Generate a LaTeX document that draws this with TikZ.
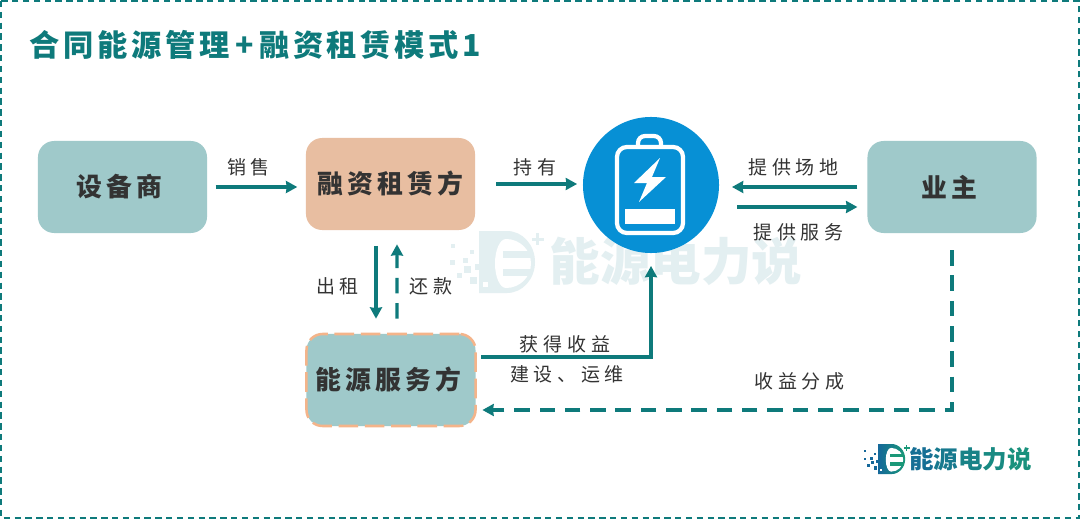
\documentclass[tikz,border=0pt]{standalone}
\usepackage{fontspec}
\usepackage{xcolor}
\usetikzlibrary{calc, arrows.meta}

\newfontfamily\cjktext[LetterSpace=25]{Noto Sans CJK SC}
\newfontfamily\cjkbox[LetterSpace=16]{Noto Sans CJK SC}
\newfontfamily\cjktitle[LetterSpace=12]{Noto Sans CJK SC}
\newfontfamily\cjkmark{Noto Sans CJK SC}

\definecolor{tealline}{HTML}{0E7A7B}
\definecolor{tealbox}{HTML}{9FC9CA}
\definecolor{peachbox}{HTML}{E8BEA1}
\definecolor{peachdash}{HTML}{F4B48A}
\definecolor{batteryblue}{HTML}{0790D5}
\definecolor{inkgray}{HTML}{333333}
\definecolor{markpale}{HTML}{E3EFF1}
\definecolor{markblue}{HTML}{15689A}
\definecolor{markgreen}{HTML}{1A9878}

\tikzset{
	flow/.style = {-{Stealth[length = 8pt, width = 8.5pt, inset = 0.5pt]}, tealline, line width = 2.4pt},
	flowdash/.style = {flow, dash pattern = on 11pt off 7pt},
	tagtext/.style = {inkgray, font = \cjktext\fontsize{13.5}{16}\selectfont},
	boxtext/.style = {inkgray, font = \cjkbox\bfseries\fontsize{18.4}{22}\selectfont},
	roundbox/.style = {minimum width = 4.225cm, minimum height = 2.3cm, rounded corners = 11.5pt},
}

\newcommand{\logomark}[5]{
	\begin{scope}[shift = {(#1,#2)}, scale = #3]
		\shade [left color = #4, right color = #5] (0,0) -- (28,0) arc (-90:90:28 and 31) -- (0,62) -- cycle;
		\fill [white] (27,8) arc (-90:90:25 and 24.5) -- (27,57) arc (90:270:11 and 24.5) -- cycle;
		\fill [white] (4,51) rectangle (9,56);
		\fill [#5] (24,20) rectangle (53,27);
		\fill [#5] (24,38) rectangle (53,45);
		\fill [#4] (-28,13) rectangle (-24,17);
		\fill [#4] (-9,19) rectangle (-5,23);
		\fill [#4] (-29,29) rectangle (-24,34);
		\fill [#4] (-16,27) rectangle (-11,32);
		\fill [#4] (-4,33) rectangle (2,39);
		\fill [#4] (-15,35) rectangle (-8,42);
		\fill [#4] (-22,42) rectangle (-17,47);
		\fill [#4] (-9,46) rectangle (-2,53);
		\fill [#5] (57,2) rectangle (60,14);
		\fill [#5] (53,7) rectangle (65,10);
	\end{scope}
}

\begin{document}
\begin{tikzpicture}[x = 0.025cm, y = -0.025cm]
	\useasboundingbox (0,0) rectangle (1080,519);
	\fill [white] (0,0) rectangle (1080,519);

	% page frame
	\draw [tealline, line width = 1.4pt, dash pattern = on 4.5pt off 3.2pt] (1,1) rectangle (1079,518);

	% watermark
	\logomark{479}{231}{1}{markpale}{markpale}
	\node (watermark) at (676,261) {\cjkmark\bfseries\fontsize{36}{42}\selectfont\color{markpale}能源电力说};

	\node (title) [anchor = west, tealline, font = \cjktitle\bfseries\fontsize{21.5}{26}\selectfont] at (25,45) {合同能源管理\hspace{4pt}+\hspace{4pt}融资租赁模式1};

	% boxes
	\node (shebei) [roundbox, boxtext, fill = tealbox] at (122.5,187) {\raisebox{2pt}{设备商}\kern 5pt};
	\node (rongzi) [roundbox, boxtext, fill = peachbox] at (390.5,184) {融资租赁方};
	\node (yezhu) [roundbox, boxtext, fill = tealbox] at (952,187) {业主\kern 3pt};
	\node (nengyuan) [roundbox, boxtext, fill = tealbox, draw = peachdash, line width = 1.8pt, dash pattern = on 14pt off 4.7pt] at (391,380) {能源服务方\kern 4pt};

	% battery
	\node (battery) [circle, fill = batteryblue, minimum size = 3.4cm, inner sep = 0pt] at (651,185) {};
	\begin{scope}[white]
		\draw [line width = 3pt, rounded corners = 5pt, fill = batteryblue] (638,147) -- (638,136) -- (661,136) -- (661,147);
		\draw [line width = 3pt, rounded corners = 7pt] (617,147) rectangle (683,233);
		\fill (625,209) rectangle (675,224);
		\fill (660,158) -- (634,183) -- (647,183) -- (639,202) -- (666,177) -- (652,177) -- cycle;
	\end{scope}

	% connectors
	\draw [flow, shorten <= 6pt, shorten >= 6pt] (shebei.east) -- (shebei.east -| rongzi.west);
	\draw [flow, shorten <= 15pt, shorten >= 4pt] (rongzi.east) -- (rongzi.east -| battery.west);
	\draw [flow, shorten <= 7pt, shorten >= 9pt] (yezhu.west) -- (battery.east |- yezhu.west);
	\coordinate (serviceout) at ($(battery.east |- yezhu.west) + (18,20)$);
	\draw [flow, shorten >= 7pt] (serviceout) -- (serviceout -| yezhu.west);
	\draw [flow, shorten <= 11pt, shorten >= 10pt] ($(rongzi.south) + (-14.5,0)$) -- ($(nengyuan.north) + (-15,0)$);
	\draw [flowdash, shorten <= 10pt, shorten >= 10pt] ($(nengyuan.north) + (6,0)$) -- ($(rongzi.south) + (6.5,0)$);
	\draw [flow, shorten <= 3pt, shorten >= 9pt] ($(nengyuan.east) + (0,-23)$) -| (battery.south);
	\draw [flowdash, shorten <= 12pt, shorten >= 4pt] (yezhu.south) |- ($(nengyuan.east) + (0,30)$);

	% labels
	\node (tagsale) [tagtext] at (248.5,167) {销售};
	\node (taghold) [tagtext] at (535,167) {持有};
	\node (tagsite) [tagtext] at (793.5,167) {提供场地};
	\node (tagserve) [tagtext] at (798.5,232) {提供服务};
	\node (taglease) [tagtext] at (337.5,286) {出租};
	\node (tagrepay) [tagtext] at (431,286) {还款};
	\node (tagincome) [tagtext] at (565,344) {获得收益};
	\node (tagbuild) [tagtext] at (567,374) {建设、运维};
	\node (tagshare) [tagtext] at (799.5,381) {收益分成};

	% logo
	\logomark{878}{444}{0.485}{markblue}{markgreen}
	\node (logotext) [anchor = west, inner sep = 0pt, font = \cjkmark\bfseries\fontsize{17.4}{20}\selectfont] at (909,459) {\color{markblue!85!markgreen}能\color{markblue!65!markgreen}源\color{markblue!45!markgreen}电\color{markblue!30!markgreen}力\color{markblue!15!markgreen}说};
\end{tikzpicture}
\end{document}
